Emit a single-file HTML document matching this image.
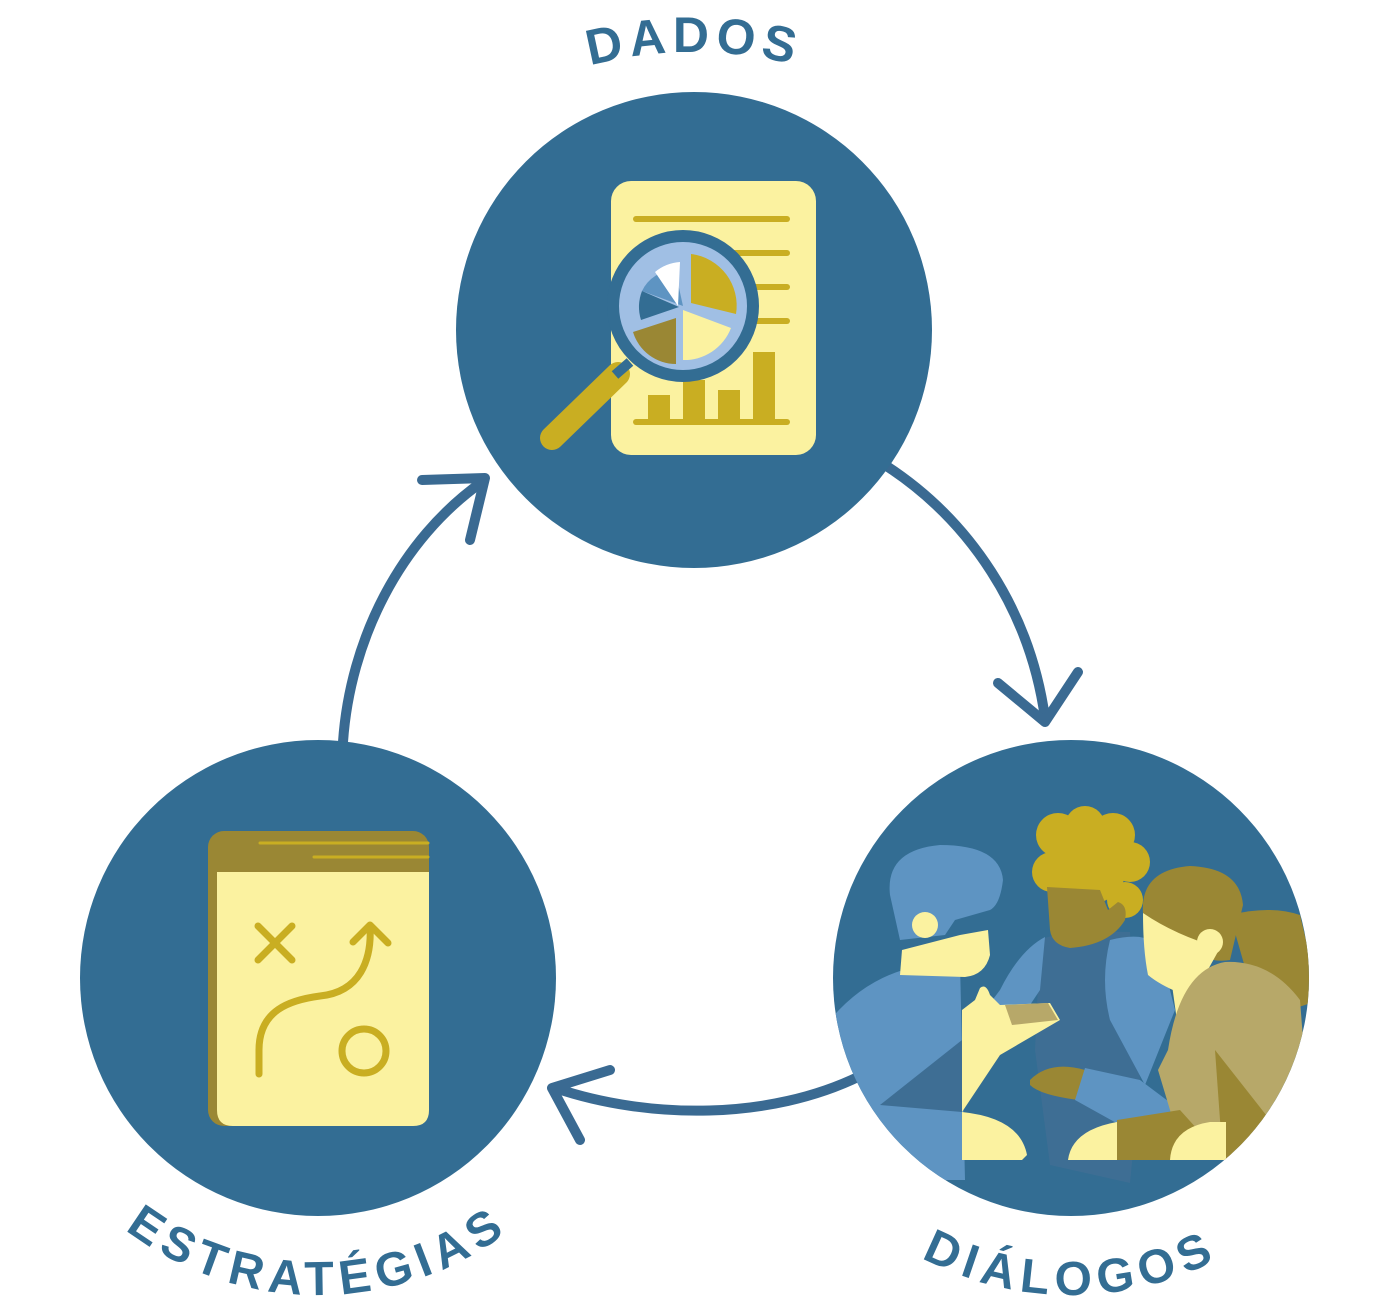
<!DOCTYPE html>
<html><head><meta charset="utf-8"><style>html,body{margin:0;padding:0;background:#fff}svg{display:block}</style></head>
<body>
<svg width="1390" height="1312" viewBox="0 0 1390 1312" xmlns="http://www.w3.org/2000/svg">
<defs>
<path id="pTop" d="M 294,452 A 400 400 0 0 1 1094,452"/>
<path id="pBL" d="M 1,978 A 317 317 0 0 0 635,978"/>
<path id="pBR" d="M 754,978 A 317 317 0 0 0 1388,978"/>
<clipPath id="cR"><circle cx="1071" cy="978" r="238"/></clipPath>
</defs>
<g font-family="'Liberation Sans',sans-serif" font-weight="bold" fill="#336d93" font-size="48" letter-spacing="7">
<text font-size="50" letter-spacing="6"><textPath href="#pTop" startOffset="50%" text-anchor="middle">DADOS</textPath></text>
<text><textPath href="#pBL" startOffset="50%" text-anchor="middle">ESTRATÉGIAS</textPath></text>
<text><textPath href="#pBR" startOffset="50%" text-anchor="middle">DIÁLOGOS</textPath></text>
</g>
<g fill="none" stroke="#3a6a92" stroke-width="10" stroke-linecap="round" stroke-linejoin="round">
<path d="M 343,742 C 350,640 400,540 482,482"/>
<path d="M 422,480 L 485,478 L 470,540"/>
<path d="M 885,465 C 970,520 1030,610 1045,718"/>
<path d="M 998,683 L 1045,722 L 1078,672"/>
<path d="M 860,1076 C 770,1120 650,1120 555,1088"/>
<path d="M 610,1070 L 552,1088 L 580,1140"/>
</g>
<circle cx="694" cy="330" r="238" fill="#336d93"/>
<circle cx="318" cy="978" r="238" fill="#336d93"/>
<circle cx="1071" cy="978" r="238" fill="#336d93"/>
<rect x="611" y="181" width="205" height="274" rx="20" fill="#fbf2a0"/>
<g stroke="#c9ae22" stroke-width="6" stroke-linecap="round">
<line x1="636" y1="219" x2="787" y2="219"/><line x1="636" y1="253" x2="787" y2="253"/>
<line x1="636" y1="287" x2="787" y2="287"/><line x1="636" y1="321" x2="787" y2="321"/>
<line x1="636" y1="422" x2="787" y2="422"/>
</g>
<g fill="#c9ae22"><rect x="648" y="395" width="22" height="27"/><rect x="683" y="380" width="22" height="42"/><rect x="718" y="390" width="22" height="32"/><rect x="753" y="352" width="22" height="70"/></g>
<line x1="552" y1="438" x2="618" y2="374" stroke="#c9ae22" stroke-width="24" stroke-linecap="round"/>
<line x1="615" y1="375" x2="630" y2="362" stroke="#336d93" stroke-width="10"/>
<circle cx="683" cy="306" r="70" fill="#a0bfe4" stroke="#336d93" stroke-width="12"/>
<g transform="translate(683,306)">
<path d="M0,0 L-8,-36 A 37 37 0 0 0 -41,-15 Z" fill="#5e94c2"/>
<path d="M-5,0 L-3,-44 A 44 44 0 0 0 -28,-34 Z" fill="#ffffff"/>
<path d="M-4,1 L-41,-15 A 44 44 0 0 0 -42,14 Z" fill="#336d93"/>
<path d="M8,-3 L8,-52 A 52 52 0 0 1 53,8 Z" fill="#c9ae22"/>
<path d="M0,4 L48,22 A 50 50 0 0 1 0,54 Z" fill="#fbf2a0"/>
<path d="M-7,12 L-7,58 A 45 45 0 0 1 -50,26 Z" fill="#9a8734"/>
</g>
<rect x="208" y="831" width="221" height="295" rx="16" fill="#9a8734"/>
<path d="M217,872 L429,872 L429,1110 Q429,1126 413,1126 L233,1126 Q217,1126 217,1110 Z" fill="#fbf2a0"/>
<g stroke="#c9ae22" stroke-width="3" stroke-linecap="round"><line x1="260" y1="843" x2="428" y2="843"/><line x1="314" y1="857" x2="428" y2="857"/></g>
<g fill="none" stroke="#c9ae22" stroke-width="7" stroke-linecap="round" stroke-linejoin="round">
<line x1="258" y1="926" x2="292" y2="960"/><line x1="292" y1="926" x2="258" y2="960"/>
<path d="M259,1074 L259,1050 C259,1010 290,1000 320,996 C360,992 372,960 370,926"/>
<path d="M353,942 L370,925 L388,943"/>
<circle cx="364" cy="1051" r="22"/>
</g>
<g clip-path="url(#cR)">
<path d="M1230,915 Q1270,905 1300,915 L1320,1000 L1260,1020 Z" fill="#9a8734"/>
<path d="M830,1020 Q880,960 960,963 L965,1180 L830,1180 Z" fill="#5e94c2"/>
<path d="M880,1105 L962,1040 L962,1112 Z" fill="#3e6e94"/>
<path d="M902,950 L960,935 L988,930 L990,955 Q985,975 965,977 L900,975 Z" fill="#fbf2a0"/>
<path d="M900,940 L890,895 Q885,850 940,845 Q1000,845 1003,880 Q1000,905 990,910 L955,920 L945,935 Z" fill="#5e94c2"/>
<circle cx="925" cy="925" r="13" fill="#fbf2a0"/>
<path d="M1040,940 Q1060,930 1130,932 L1140,1080 L1130,1183 L1050,1165 L1035,1050 Z" fill="#3e6e94"/>
<path d="M1045,937 Q1020,950 1000,990 L985,1010 L1020,1020 L1040,990 Z" fill="#5e94c2"/>
<g fill="#c9ae22"><circle cx="1058" cy="835" r="22"/><circle cx="1085" cy="826" r="20"/><circle cx="1113" cy="835" r="22"/><circle cx="1130" cy="862" r="20"/><circle cx="1052" cy="872" r="20"/><circle cx="1125" cy="900" r="18"/><circle cx="1090" cy="868" r="36"/><circle cx="1070" cy="895" r="20"/></g>
<path d="M1047,887 L1100,890 L1108,910 L1118,902 Q1128,905 1125,920 Q1110,945 1070,948 Q1052,945 1050,930 Z" fill="#9a8734"/>
<path d="M975,1000 L980,988 Q986,983 990,995 L1000,1005 L1050,1003 L1060,1020 L1000,1055 L962,1112 L962,1010 Z" fill="#fbf2a0"/>
<path d="M1005,1005 L1048,1003 L1058,1020 L1012,1025 Z" fill="#b7a869"/>
<path d="M1110,940 Q1150,930 1160,950 L1175,1010 L1145,1085 L1110,1020 Q1100,980 1110,940 Z" fill="#5e94c2"/>
<path d="M1030,1080 Q1050,1060 1085,1070 L1078,1100 Q1040,1095 1030,1085 Z" fill="#9a8734"/>
<path d="M1085,1068 L1140,1080 L1180,1110 L1120,1125 L1075,1100 Z" fill="#5e94c2"/>
<path d="M1143,913 Q1140,870 1190,866 Q1240,868 1243,905 L1230,960 Q1200,965 1175,935 Z" fill="#9a8734"/>
<path d="M1143,913 Q1175,935 1220,948 L1205,975 Q1200,990 1180,993 Q1160,985 1148,975 Q1143,950 1143,913 Z" fill="#fbf2a0"/>
<circle cx="1210" cy="942" r="13" fill="#fbf2a0"/>
<path d="M1172,985 L1190,985 L1190,1025 Q1185,1030 1178,1028 Z" fill="#fbf2a0"/>
<path d="M1168,1050 Q1180,970 1225,962 Q1270,960 1300,1000 L1310,1130 L1225,1160 L1185,1160 L1158,1070 Z" fill="#b7a869"/>
<path d="M1215,1050 L1270,1120 L1225,1160 L1220,1120 Z" fill="#9a8734"/>
<path d="M1117,1120 L1180,1110 L1225,1160 L1117,1160 Z" fill="#9a8734"/>
<path d="M1068,1160 Q1072,1130 1117,1122 L1117,1160 Z" fill="#fbf2a0"/>
<path d="M1170,1160 Q1172,1128 1210,1122 L1226,1122 L1226,1160 Z" fill="#fbf2a0"/>
<path d="M962,1112 Q1020,1118 1027,1155 L1022,1160 L962,1160 Z" fill="#fbf2a0"/>
</g>
</svg>
</body></html>
